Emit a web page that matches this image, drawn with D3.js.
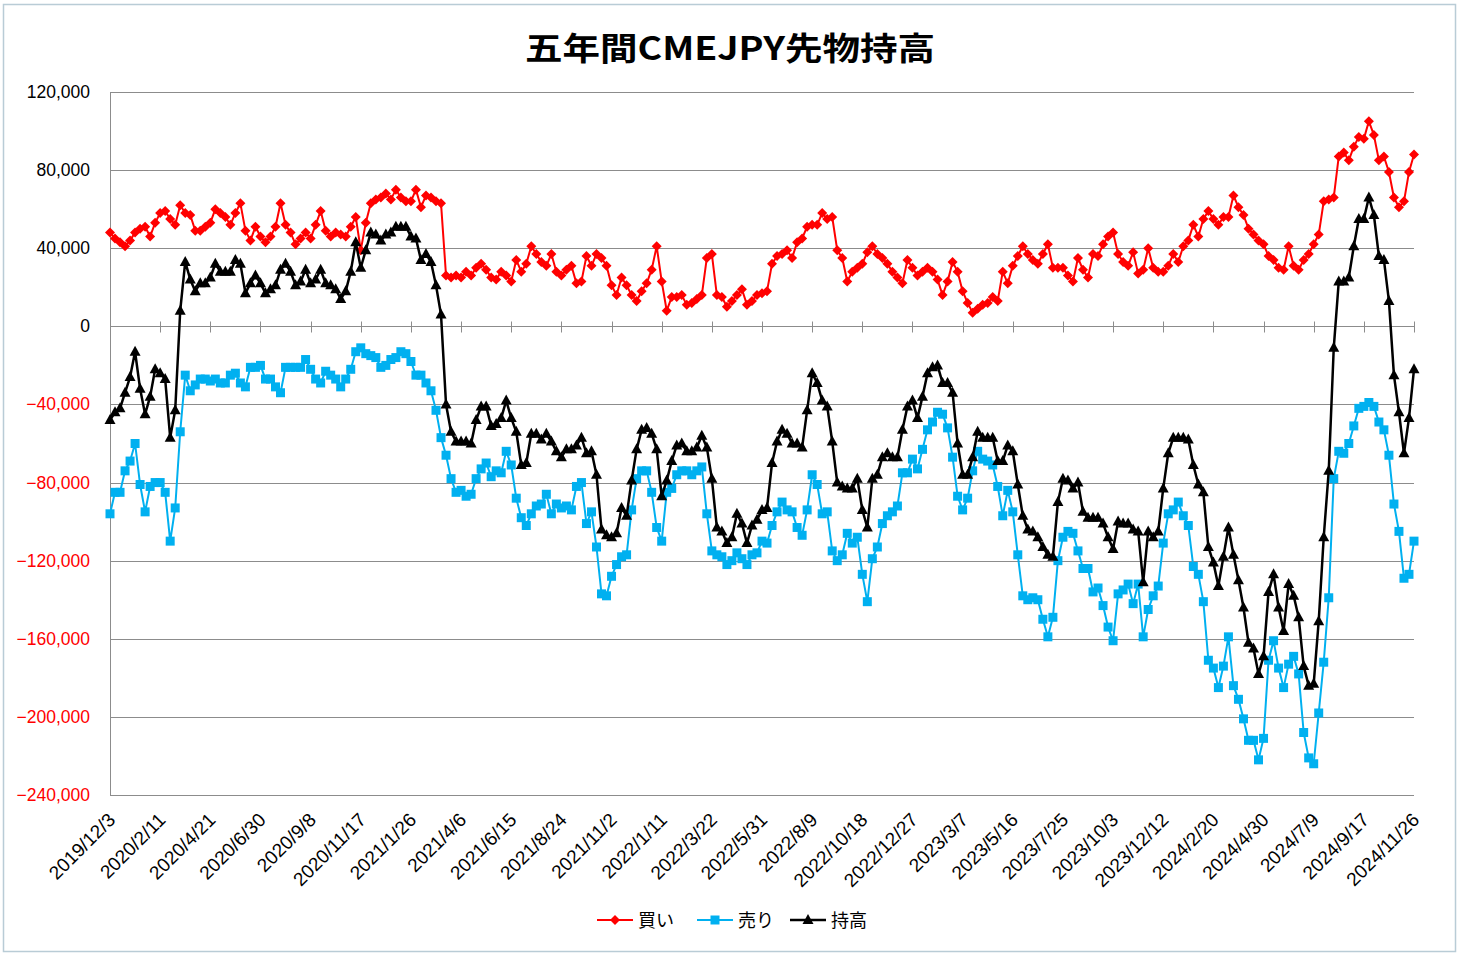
<!DOCTYPE html>
<html><head><meta charset="utf-8">
<script src="https://cdn.jsdelivr.net/npm/d3@7"></script>
<style>body{margin:0;background:#fff}svg{display:block}</style>
</head><body>
<svg id="chart" width="1460" height="960"></svg>
<script>
const chartTitle = "五年間CMEJPY先物持高";
const seriesNames = ["買い", "売り", "持高"];
const seriesColors = ["#ff0000", "#00b0f0", "#000000"];
const firstWeek = [2019, 12, 3];
const weekCount = 261;
const labelEvery = 10;
const yTicksK = [120, 80, 40, 0, -40, -80, -120, -160, -200, -240];

// values in thousands of contracts
const buyK = [
48,45,43,41,44,48,50,51,46,53,
58,59,55,52,62,58,57,49,49,51,
53,60,58,56,52,58,63,49,44,51,
46,43,46,51,63,52,48,42,45,48,
45,52,59,49,46,48,47,46,51,56,
39,53,63,65,66,68,65,70,66,64,
64,70,61,67,66,64,63,26,25,26,
25,28,26,30,32,29,25,24,28,26,
23,34,28,32,41,37,33,31,37,28,
26,29,31,22,23,36,31,37,35,31,
21,16,25,21,16,13,18,22,29,41,
23,8,15,15,16,11,12,14,16,35,
37,16,15,10,13,16,19,11,13,16,
17,18,32,36,37,39,35,43,45,51,
52,52,58,55,56,39,35,23,28,30,
32,38,41,37,35,32,28,25,22,34,
30,26,28,30,28,24,16,23,33,28,
18,12,7,9,11,12,15,13,28,22,
31,36,41,37,34,32,37,42,30,30,
30,26,23,35,29,25,37,36,42,46,
48,37,33,31,38,27,29,40,30,28,
28,31,37,33,41,44,52,46,55,59,
55,52,56,56,67,61,57,50,47,44,
42,36,34,30,29,41,31,29,34,37,
42,47,64,65,66,87,89,85,92,97,
96,105,98,85,87,79,66,61,64,79,
88];
const sellK = [
-96,-85,-85,-74,-69,-60,-81,-95,-82,-80,
-80,-85,-110,-93,-54,-25,-33,-30,-27,-27,
-28,-27,-29,-29,-25,-24,-29,-31,-21,-21,
-20,-27,-27,-31,-34,-21,-21,-21,-21,-17,
-22,-27,-29,-23,-25,-27,-31,-27,-22,-13,
-11,-14,-15,-16,-21,-20,-17,-16,-13,-14,
-18,-25,-25,-29,-33,-43,-57,-66,-78,-85,
-84,-87,-86,-78,-73,-70,-77,-74,-75,-64,
-71,-88,-98,-102,-96,-92,-91,-86,-96,-91,
-93,-92,-94,-82,-80,-101,-95,-113,-137,-138,
-128,-122,-118,-117,-94,-78,-74,-74,-85,-103,
-110,-85,-83,-76,-74,-74,-76,-74,-72,-96,
-115,-117,-118,-122,-120,-116,-119,-122,-117,-116,
-110,-111,-102,-95,-90,-94,-95,-103,-107,-94,
-76,-81,-96,-95,-115,-120,-117,-106,-111,-108,
-127,-141,-119,-113,-101,-97,-95,-92,-75,-75,
-68,-73,-63,-53,-49,-44,-45,-52,-67,-87,
-94,-88,-74,-64,-68,-69,-71,-82,-97,-84,
-95,-117,-138,-140,-139,-140,-150,-159,-149,-120,
-108,-105,-106,-115,-124,-124,-136,-134,-143,-154,
-161,-137,-135,-132,-142,-132,-159,-145,-138,-133,
-111,-96,-94,-90,-97,-102,-123,-127,-141,-171,
-175,-185,-174,-159,-184,-191,-201,-212,-212,-222,
-211,-171,-161,-175,-185,-173,-169,-178,-208,-221,
-224,-198,-172,-139,-78,-64,-65,-60,-51,-42,
-41,-39,-41,-49,-53,-66,-91,-105,-129,-127,
-110];
const netK = [
-48,-44,-42,-34,-26,-13,-32,-45,-36,-22,
-24,-27,-57,-43,8,33,24,18,22,22,
25,32,28,28,28,34,32,17,22,26,
22,17,19,21,29,32,28,21,23,29,
22,24,29,22,21,19,14,18,28,43,
30,39,48,47,44,47,48,51,51,51,
46,45,34,37,33,21,6,-40,-54,-59,
-59,-59,-60,-48,-41,-41,-51,-50,-47,-38,
-47,-54,-71,-70,-55,-55,-58,-55,-59,-64,
-67,-63,-63,-61,-57,-65,-64,-76,-104,-107,
-108,-106,-93,-97,-79,-63,-53,-52,-55,-63,
-87,-79,-69,-61,-60,-64,-64,-62,-56,-62,
-78,-103,-105,-111,-108,-96,-101,-111,-102,-99,
-94,-93,-70,-59,-53,-55,-60,-60,-62,-43,
-24,-29,-38,-41,-59,-80,-82,-83,-83,-78,
-94,-103,-78,-76,-67,-65,-67,-67,-53,-41,
-38,-47,-36,-24,-21,-20,-29,-29,-34,-60,
-76,-76,-67,-54,-57,-57,-57,-69,-69,-61,
-64,-81,-97,-104,-105,-108,-113,-117,-118,-90,
-78,-79,-83,-80,-95,-98,-98,-98,-101,-108,
-114,-100,-101,-101,-104,-105,-131,-105,-108,-105,
-83,-65,-57,-57,-57,-58,-71,-81,-85,-113,
-121,-133,-118,-103,-117,-130,-144,-162,-165,-178,
-169,-136,-127,-144,-156,-132,-138,-149,-174,-184,
-183,-151,-108,-74,-11,23,23,25,41,55,
55,66,57,36,34,13,-25,-44,-65,-47,
-22];

// weekly category labels
const categories = [];
for (let i = 0; i < weekCount; i++) {
  const d = new Date(Date.UTC(firstWeek[0], firstWeek[1]-1, firstWeek[2] + 7*i));
  categories.push(`${d.getUTCFullYear()}/${d.getUTCMonth()+1}/${d.getUTCDate()}`);
}
const tickLabels = categories.filter((c, i) => i % labelEvery === 0);

const svg = d3.select("#chart");
const L = 110, R = 1414, T = 92, B = 795;
const x = d3.scalePoint().domain(categories).range([L, R]);
const y = d3.scaleLinear().domain([-240, 120]).range([B, T]);
const fmt = d3.format(",");

// chart frame
svg.append("rect").attr("x",3.5).attr("y",4.5).attr("width",1452).attr("height",947)
  .attr("fill","#fff").attr("stroke","#b9ccd6").attr("stroke-width",1.5);

// title
svg.append("text").attr("x",730).attr("y",60).attr("text-anchor","middle")
  .attr("font-family","'Noto Sans CJK JP','Noto Sans',sans-serif").attr("font-weight","bold")
  .attr("font-size",32).attr("textLength",410).attr("lengthAdjust","spacingAndGlyphs")
  .attr("fill","#000").text(chartTitle);

// gridlines
svg.append("g").selectAll("line").data(yTicksK).join("line")
  .attr("x1",L).attr("x2",R).attr("y1",d=>Math.round(y(d))+0.5).attr("y2",d=>Math.round(y(d))+0.5)
  .attr("stroke","#8c8c8c").attr("stroke-width",1);
// left axis line
svg.append("line").attr("x1",L+0.5).attr("x2",L+0.5).attr("y1",T).attr("y2",B+1)
  .attr("stroke","#8c8c8c");

// y labels
svg.append("g").selectAll("text").data(yTicksK).join("text")
  .attr("x",90).attr("y",d=>y(d)+6).attr("text-anchor","end")
  .attr("font-family","'Liberation Sans',Arial,sans-serif").attr("font-size",17.5)
  .attr("fill",d=>d<0?"#ff0000":"#000").text(d=>fmt(d*1000));

// x axis tick marks crossing zero line
const y0 = Math.round(y(0))+0.5;
svg.append("g").selectAll("line").data(tickLabels).join("line")
  .attr("x1",d=>Math.round(x(d))+0.5).attr("x2",d=>Math.round(x(d))+0.5)
  .attr("y1",y0-5).attr("y2",y0+6).attr("stroke","#8c8c8c");

// x labels at bottom
const xAxis = d3.axisBottom(x).tickValues(tickLabels).tickSize(0);
const gx = svg.append("g").attr("transform",`translate(0,${B})`).call(xAxis);
gx.select(".domain").remove();
gx.selectAll("text")
  .attr("font-family","'Liberation Sans',Arial,sans-serif").attr("font-size",19).attr("fill","#000")
  .attr("text-anchor","end").attr("dy",null).attr("y",0)
  .attr("transform","translate(6,26) rotate(-45)");

// series
const seriesData = [buyK, sellK, netK];
const markerPaths = [
  "M0,-5L5,0L0,5L-5,0Z",
  "M-4.5,-4.5H4.5V4.5H-4.5Z",
  "M0,-6L5.5,4L-5.5,4Z"
];
const line = d3.line().x((d,i)=>x(categories[i])).y(d=>y(d));
seriesData.forEach((vals, s) => {
  const g = svg.append("g");
  g.append("path").datum(vals).attr("d", line).attr("fill","none")
    .attr("stroke", seriesColors[s]).attr("stroke-width", s===2?2.5:2).attr("stroke-linejoin","round");
  g.selectAll("path.m").data(vals).join("path").attr("class","m")
    .attr("d", markerPaths[s]).attr("fill", seriesColors[s])
    .attr("transform",(d,i)=>`translate(${x(categories[i])},${y(d)})`);
});

// legend
const legendX = [597, 697, 790];
const lg = svg.append("g");
seriesNames.forEach((n, s) => {
  const lx = legendX[s], ly = 920;
  lg.append("line").attr("x1",lx).attr("x2",lx+36).attr("y1",ly).attr("y2",ly)
    .attr("stroke",seriesColors[s]).attr("stroke-width",s===2?2.5:2);
  lg.append("path").attr("d",markerPaths[s]).attr("fill",seriesColors[s])
    .attr("transform",`translate(${lx+18},${ly})`);
  lg.append("text").attr("x",lx+41).attr("y",ly+7)
    .attr("font-family","'Noto Sans CJK JP',sans-serif").attr("font-size",18)
    .attr("fill","#000").text(n);
});
</script>
</body></html>
